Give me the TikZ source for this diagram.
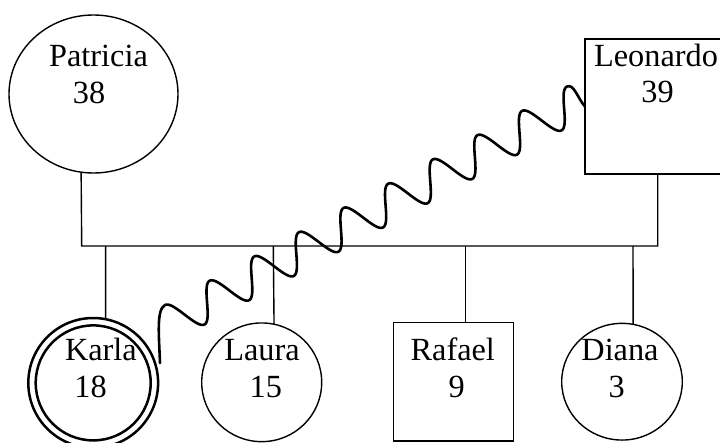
\documentclass[tikz,border=0pt]{standalone}
\usepackage{fontspec}
\setmainfont{Liberation Serif}
\usetikzlibrary{shapes.geometric}
\begin{document}
\begin{tikzpicture}[x=1pt,y=-1pt,
  person/.style={draw, line width=1.4pt, inner sep=0pt, outer sep=0pt},
  fem/.style={person, ellipse},
  mal/.style={person, rectangle},
  proband/.style={draw, line width=2.5pt, circle, inner sep=0pt, outer sep=0pt},
  lbl/.style={inner sep=0pt, anchor=base, font=\fontsize{32.3}{37}\selectfont},
  link/.style={line width=1.4pt},
  wave/.style={line width=2.6pt, line join=round, line cap=round}]
\useasboundingbox (0,0) rectangle (720,442);
% persons
\node[fem, minimum width=169pt, minimum height=158pt] (pat) at (93.5,94) {};
\node[mal, minimum width=136pt, minimum height=135pt] (leo) at (653,106.5) {};
\node[proband, minimum size=129.8pt] (karla) at (93.2,382.9) {};
\node[proband, minimum size=115pt] (karlain) at (93.2,382.9) {};
\node[fem, minimum width=120pt, minimum height=118.7pt] (laura) at (261.7,382.3) {};
\node[mal, minimum width=120pt, minimum height=118.3pt] (rafael) at (453.3,381.9) {};
\node[fem, minimum width=120.6pt, minimum height=116.7pt] (diana) at (622,381.7) {};
% labels
\node[lbl] (patn) at (98.5,66.7) {Patricia};
\node[lbl] (pata) at (89,103.3) {38};
\node[lbl] (leon) at (656,66.7) {Leonardo};
\node[lbl] (leoa) at (657.5,102.3) {39};
\node[lbl] (karn) at (100.9,360.8) {Karla};
\node[lbl] (kara) at (90.5,397.5) {18};
\node[lbl] (laun) at (262,360.3) {Laura};
\node[lbl] (laua) at (265.8,397.8) {15};
\node[lbl] (rafn) at (452.8,360.8) {Rafael};
\node[lbl] (rafa) at (456.7,397.3) {9};
\node[lbl] (dian) at (620,360.8) {Diana};
\node[lbl] (diaa) at (616.7,397.3) {3};
% sibship line
\coordinate (sibL) at (81.7,246);
\coordinate (sibR) at (657.7,246);
\coordinate (ck) at (105.7,246);
\coordinate (cl) at (273.3,246);
\coordinate (cr) at (465.7,246);
\coordinate (cd) at (633,246);
\draw[link] (pat.261.4) -- (sibL) -- (sibR) -- (leo.south -| sibR);
\draw[link] (ck) -- (karla.79);
\draw[link] (cl) -- (laura.78.8);
\draw[link] (cr) -- (rafael.north -| cr);
\draw[link] (cd) -- (diana.79.2);
% wavy relation line
\coordinate (wst) at (160,363);
\draw[wave] (wst) .. controls (159,335) and (156.2,309.8) .. (165,305)
  -- plot[domain=0:457.2, samples=361, variable=\s]
     ({173.6+0.8786*\s-8.597*cos(\s*7.0866)}, {320.8-0.4776*\s-15.815*cos(\s*7.0866)})
  .. controls (573.7,82.8) and (578,99) .. (leo.west);
\end{tikzpicture}
\end{document}
